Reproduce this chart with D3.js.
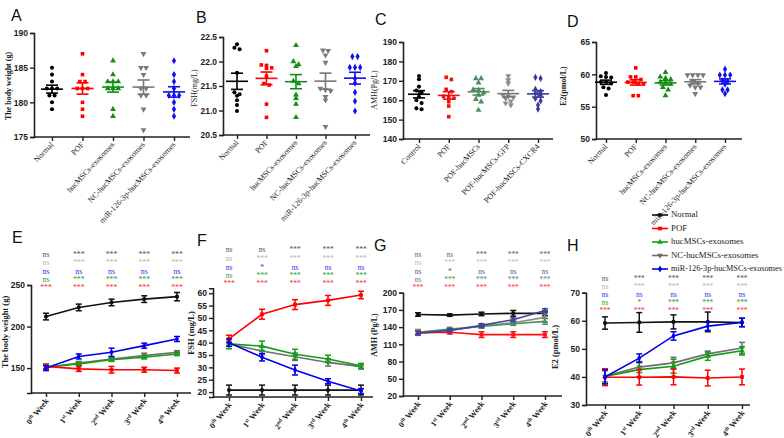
<!DOCTYPE html>
<html><head><meta charset="utf-8">
<script src="https://cdn.jsdelivr.net/npm/d3@7"></script>
<style>body{margin:0;background:#fff}svg{display:block}</style>
</head><body>
<svg id="c" width="784" height="438"></svg>
<script>
// ---------------- DATA ----------------
const groups = ["Normal","POF","hucMSCs-exosomes","NC-hucMSCs-exosomes","miR-126-3p-hucMSCs-exosomes"];
const groupsC = ["Control","POF","POF-hucMSCs","POF-hucMSCs-GFP","POF-hucMSCs-CXCR4"];

const weightA = [
 [185,184,183,182,182,182,181,181,180,179],
 [187,184,183,183,182,182,182,180,179,178],
 [186,184,183,183,183,182,182,182,179,178],
 [187,185,185,184,182,182,181,181,179,176],
 [186,184,183,182,181,181,181,180,179,178]
];
const fshB = [
 [22.35,22.28,22.25,21.77,21.37,21.33,21.3,21.21,21.11,20.99],
 [22.22,21.93,21.92,21.87,21.86,21.70,21.55,21.52,21.13,20.86],
 [22.33,22.0,21.94,21.9,21.6,21.55,21.32,21.25,21.13,20.86],
 [22.23,22.22,22.13,21.98,21.45,21.42,21.4,21.28,21.21,20.67],
 [22.1,22.1,21.88,21.88,21.88,21.65,21.56,21.37,21.19,20.99]
];
const amhC = [
 [172.5,170.8,167,165,164,161.8,160,158.5,155.8,155.3],
 [171.8,170.7,165.6,164.4,162,161.5,161,159.2,157,151.5],
 [171.2,171.2,169,165.5,165.2,164,162.6,160.5,159.2,154.9],
 [172.5,170.4,168.7,162.5,162,161.5,160.9,159.5,158.5,157.5],
 [171.8,171.2,165.6,164.4,163.5,162.6,160.9,159.7,157.5,155.4]
];
const e2D = [
 [60.2,59.7,59.6,59.5,58.8,58.8,58.6,58.0,57.8,56.8],
 [61.0,59.6,59.6,59.2,58.8,58.8,58.6,58.5,56.7,56.7],
 [60.3,59.6,59.4,59.2,58.8,58.7,58.5,58.0,57.6,56.7],
 [59.9,59.9,59.9,59.9,58.9,58.3,58.7,58.0,58.0,57.0],
 [60.8,59.9,59.9,59.9,59.0,58.9,58.5,57.6,57.6,57.0]
];

const weekNums = ["0","1","2","3","4"];
const weekSups = ["th","st","nd","rd","th"];

const weightMean = [
 [212,223,229,233,236],
 [152,149,148,148,147],
 [151,155,160,163,167],
 [151,156,161,165,169],
 [150,164,169,177,185]
];
const weightErr = [[4,4,4,4,5],[3,3,4,3,3],[2,2,2,2,2],[2,2,2,3,2],[3,3,5,3,3]];

const fshMean = [
 [20.8,20.8,20.8,20.8,20.8],
 [41.5,51.5,55.4,57.1,59.3],
 [39.5,38.6,35.3,33.4,30.6],
 [39.5,36.6,34.3,32.0,30.3],
 [40.0,34.1,28.9,24.4,20.4]
];
const fshErr = [[2,2,2,2,2],[1.5,2,2,2,1.5],[2,2,2,1.5,1],[1,1.5,1.5,1.5,1],[1.5,1.5,2,1,1]];

const amhMean = [
 [162,161,163,164,164],
 [130,131,127,127,127],
 [131,136.5,141,146,150],
 [131,134,142,147.5,157],
 [129.5,134,143,153,169]
];
const amhErr = [[3,2,3,5,4],[3,3,5,5,5],[3,3,3,3,5],[5,3,3,3,8],[3,3,3,3,3]];

const e2Mean = [
 [59.2,59.4,59.6,59.6,59.4],
 [39.9,39.9,40.0,39.6,40.0],
 [40.2,42.6,43.8,47.4,49.3],
 [40.2,43.5,45.0,48.2,50.3],
 [40.0,46.7,54.6,58.1,59.4]
];
const e2Err = [[2.2,3.5,2.5,3.5,1.5],[3,2.8,2.8,2.8,2.8],[2.5,2.5,2.5,1.5,1.5],[2,2,2,1,2],[2.5,1.5,1.5,1.5,1.5]];

const sigE = [["ns","***","***","***","***"],["ns","***","***","***","***"],["ns","ns","ns","ns","ns"],["ns","***","***","***","***"],["***","***","***","***","***"]];
const sigF = [["ns","ns","***","***","***"],["ns","***","***","***","***"],["ns","*","ns","ns","ns"],["ns","***","***","***","***"],["***","***","***","***","***"]];
const sigG = [["ns","ns","***","***","***"],["ns","***","***","***","***"],["ns","*","ns","ns","ns"],["ns","***","***","***","***"],["***","***","***","***","***"]];
const sigH = [["ns","***","***","***","***"],["ns","***","***","***","***"],["ns","ns","ns","ns","ns"],["ns","*","***","***","***"],["***","***","***","***","***"]];

const ticksA = [175,180,185,190];
const ticksB = [20.5,21.0,21.5,22.0,22.5];
const ticksC = [140,150,160,170,180,190];
const ticksD = [50,55,60,65];
const ticksE = [150,200,250];
const ticksF = [20,25,30,35,40,45,50,55,60];
const ticksG = [20,50,80,110,140,170,200];
const ticksH = [30,40,50,60,70];

// ---------------- STYLE ----------------
const svg = d3.select("#c");
const SANS = "'Liberation Sans', Arial, sans-serif";
const SERIF = "'Liberation Serif', 'Times New Roman', serif";
const colStd = ["#000000","#ff0000","#138f13","#7a7a7a","#1010ee"];
const colC = ["#000000","#ee1111","#4f8c5f","#8c8c8c","#3c3c9c"];
const shapes = [d3.symbolCircle,d3.symbolSquare,d3.symbolTriangle,"inv",d3.symbolDiamond];

function sym(i,size){
  const s = shapes[i];
  if(s==="inv") return {p:d3.symbol().type(d3.symbolTriangle).size(size)(), r:180};
  return {p:d3.symbol().type(s).size(size)(), r:0};
}
function fit(sel,maxW){
  const n=sel.node(); const w=n.getComputedTextLength();
  if(w>maxW){ const fs=parseFloat(sel.attr("font-size")); sel.attr("font-size",fs*maxW/w); }
}

function letter(t,x,y){
  svg.append("text").attr("x",x).attr("y",y).text(t)
    .style("font-family",SANS).attr("font-size",16).attr("fill","#111");
}

function yLabel(t,x,y,size,bold){
  svg.append("text").attr("transform",`translate(${x},${y}) rotate(-90)`)
    .attr("text-anchor","middle").style("font-family",SERIF).attr("font-size",size)
    .attr("font-weight",bold?"bold":"normal").attr("fill","#222").text(t);
}

function drawYAxis(y,ax,ticks,fmt,fs){
  const g = svg.append("g").attr("transform",`translate(${ax},0)`)
    .call(d3.axisLeft(y).tickValues(ticks).tickFormat(fmt).tickSize(4).tickPadding(2));
  g.select(".domain").attr("stroke","#222").attr("stroke-width",1.6);
  g.selectAll(".tick line").attr("stroke","#222").attr("stroke-width",1.4);
  g.selectAll(".tick text").style("font-family",SANS).attr("font-weight","bold")
    .attr("font-size",fs).attr("fill","#222");
}

function drawXAxis(x,ay,x0,x1){
  const g = svg.append("g").attr("transform",`translate(0,${ay})`)
    .call(d3.axisBottom(x).tickSize(4).tickFormat(""));
  g.select(".domain").remove();
  g.selectAll(".tick line").attr("stroke","#222").attr("stroke-width",1.4);
  svg.append("line").attr("x1",x0).attr("x2",x1).attr("y1",ay).attr("y2",ay)
    .attr("stroke","#222").attr("stroke-width",1.6);
}

// ---------------- SCATTER PANELS ----------------
function scatterPanel(o){
  const y = d3.scaleLinear().domain(o.domain).range(o.yRange);
  const x = d3.scalePoint().domain(o.cats).range(o.xRange);
  drawYAxis(y,o.ax0,o.ticks,o.fmt,8.5);
  drawXAxis(x,o.yRange[0],o.ax0,o.ax1);
  o.cats.forEach((c,gi)=>{
    const vals = o.data[gi];
    const cx = x(c);
    const col = o.colors[gi];
    const idx = vals.map((v,i)=>i).sort((a,b)=>y(vals[a])-y(vals[b]));
    const clusters=[]; let cur=null;
    idx.forEach(i=>{
      const py=y(vals[i]);
      if(!cur || py-cur.y0>3){cur={y0:py,m:[]};clusters.push(cur);}
      cur.m.push(i);
    });
    const off = new Array(vals.length).fill(0);
    clusters.forEach(cl=>{cl.m.forEach((i,k)=>{off[i]=(k-(cl.m.length-1)/2)*5.2;});});
    vals.forEach((v,i)=>{
      const s = sym(gi, gi<=1?13:15);
      svg.append("path").attr("d",s.p)
        .attr("transform",`translate(${cx+off[i]},${y(v)}) rotate(${s.r})`)
        .attr("fill",col);
    });
    const m = d3.mean(vals), se = d3.deviation(vals)/Math.sqrt(vals.length);
    const g = svg.append("g").attr("stroke",gi===3?"#777":col).attr("stroke-width",1.6).attr("fill","none");
    g.append("line").attr("x1",cx-11).attr("x2",cx+11).attr("y1",y(m)).attr("y2",y(m));
    g.append("line").attr("x1",cx).attr("x2",cx).attr("y1",y(m-se)).attr("y2",y(m+se));
    g.append("line").attr("x1",cx-6).attr("x2",cx+6).attr("y1",y(m-se)).attr("y2",y(m-se));
    g.append("line").attr("x1",cx-6).attr("x2",cx+6).attr("y1",y(m+se)).attr("y2",y(m+se));
    svg.append("text").attr("transform",`translate(${cx+2},${o.yRange[0]+8}) rotate(-47)`)
      .attr("text-anchor","end").style("font-family",SERIF).attr("font-size",8)
      .attr("fill","#222").text(c);
  });
}

scatterPanel({data:weightA,cats:groups,colors:colStd,domain:[175,190],yRange:[137,33],
  xRange:[52,174],ax0:34,ax1:190,ticks:ticksA,fmt:d3.format("d")});
scatterPanel({data:fshB,cats:groups,colors:colStd,domain:[20.5,22.5],yRange:[135,37],
  xRange:[237,355],ax0:223,ax1:370,ticks:ticksB,fmt:d3.format(".1f")});
scatterPanel({data:amhC,cats:groupsC,colors:colC,domain:[140,190],yRange:[139,42],
  xRange:[419,538],ax0:403,ax1:553,ticks:ticksC,fmt:d3.format("d")});
scatterPanel({data:e2D,cats:groups,colors:colStd,domain:[50,65],yRange:[139,42],
  xRange:[606,725],ax0:596,ax1:742,ticks:ticksD,fmt:d3.format("d")});

yLabel("The body weight  (g)",11,86,8,true);
yLabel("FSH(mg/L)",197,88,8,false);
yLabel("AMH(Pg/L)",377,90,8,false);
yLabel("E2(pmol/L)",566,86,8,true);
letter("A",11,21); letter("B",196,23); letter("C",375,25); letter("D",567,27);

// ---------------- LINE PANELS ----------------
function linePanel(o){
  const y = d3.scaleLinear().domain(o.domain).range(o.yRange);
  const x = d3.scalePoint().domain(weekNums).range(o.xRange);
  drawYAxis(y,o.ax0,o.ticks,d3.format("d"),8.5);
  drawXAxis(x,o.yRange[0],o.ax0,o.ax1);
  weekNums.forEach((w,i)=>{
    const t = svg.append("text").attr("transform",`translate(${x(w)+3},${o.yRange[0]+8}) rotate(-52)`)
      .attr("text-anchor","end").style("font-family",SERIF).attr("font-weight","bold")
      .attr("font-size",8.2).attr("fill","#222");
    t.append("tspan").text(w);
    t.append("tspan").attr("dy",-3).attr("font-size",5.5).text(weekSups[i]);
    t.append("tspan").attr("dy",3).text(" Week");
  });
  const order=[0,3,2,1,4];
  order.forEach(gi=>{
    const col=o.colors[gi];
    const pts = o.means[gi].map((v,i)=>[x(weekNums[i]),y(v)]);
    svg.append("path").attr("d",d3.line()(pts)).attr("fill","none")
      .attr("stroke",col).attr("stroke-width",1.6);
    const g = svg.append("g").attr("stroke",col).attr("stroke-width",1.5);
    o.means[gi].forEach((v,i)=>{
      const cx=x(weekNums[i]), e=o.errs[gi][i];
      g.append("line").attr("x1",cx).attr("x2",cx).attr("y1",y(v-e)).attr("y2",y(v+e));
      g.append("line").attr("x1",cx-3).attr("x2",cx+3).attr("y1",y(v-e)).attr("y2",y(v-e));
      g.append("line").attr("x1",cx-3).attr("x2",cx+3).attr("y1",y(v+e)).attr("y2",y(v+e));
      const s=sym(gi,14);
      svg.append("path").attr("d",s.p).attr("transform",`translate(${cx},${y(v)}) rotate(${s.r})`)
        .attr("fill",col);
    });
  });
  o.sig.forEach((row,ri)=>{
    row.forEach((t,i)=>{
      svg.append("text").attr("x",x(weekNums[i])).attr("y",o.sigY[ri])
        .attr("text-anchor","middle").attr("dominant-baseline","middle")
        .style("font-family",SERIF).attr("font-size",o.sigFs||7.8).attr("fill",o.sigCol[ri]).text(t);
    });
  });
}

const sigColStd = ["#505050","#b4b4b4","#2a2aff","#22a022","#ff2a2a"];
const sigColG = ["#606060","#bdbdbd","#5050a8","#4a9060","#ff3030"];
const lineColStd = ["#111111","#ff0000","#12a012","#6e6e6e","#0000ee"];
const lineColG = ["#111111","#ff1010","#4f8f5f","#8a8a8a","#4242a2"];

linePanel({means:weightMean,errs:weightErr,colors:lineColStd,domain:[120,250],yRange:[393,285],
  xRange:[46,177],ax0:31,ax1:191,ticks:ticksE,sig:sigE,sigY:[255,263,272,280,288],sigCol:sigColStd});
linePanel({means:fshMean,errs:fshErr,colors:lineColStd,domain:[18,62],yRange:[397,288.3],
  xRange:[229,361],ax0:213,ax1:373,ticks:ticksF,sig:sigF,sigY:[250,259,268,276,284],sigCol:sigColStd,sigFs:7.5});
linePanel({means:amhMean,errs:amhErr,colors:lineColG,domain:[20,200],yRange:[396,292.7],
  xRange:[418,545],ax0:403,ax1:562,ticks:ticksG,sig:sigG,sigY:[255,263,272,280,288],sigCol:sigColG,sigFs:7.4});
linePanel({means:e2Mean,errs:e2Err,colors:lineColStd,domain:[30,70],yRange:[405,292.7],
  xRange:[605,742],ax0:586,ax1:750,ticks:ticksH,sig:sigH,sigY:[279,287,295,303,311],sigCol:sigColStd,sigFs:7.4});

yLabel("The body weight  (g)",8,332,8.5,true);
yLabel("FSH (mg/L)",194,333,8.5,true);
yLabel("AMH (Pg/L)",377,335,8,true);
yLabel("E2 (pmol/L)",558,347,8.5,true);
letter("E",12,243); letter("F",197,246); letter("G",374,251); letter("H",567,251);

// legend
const lg = svg.append("g");
groups.forEach((gname,i)=>{
  const ly = 215 + i*13.5;
  lg.append("line").attr("x1",652).attr("x2",668).attr("y1",ly).attr("y2",ly)
    .attr("stroke",lineColStd[i]).attr("stroke-width",1.6);
  const s=sym(i,14);
  lg.append("path").attr("d",s.p).attr("transform",`translate(660,${ly}) rotate(${s.r})`).attr("fill",lineColStd[i]);
  const t = lg.append("text").attr("x",671).attr("y",ly).attr("dominant-baseline","middle")
    .style("font-family",SERIF).attr("font-size",8.8).attr("fill","#222").text(gname);
  fit(t,111);
});
</script>
</body></html>
